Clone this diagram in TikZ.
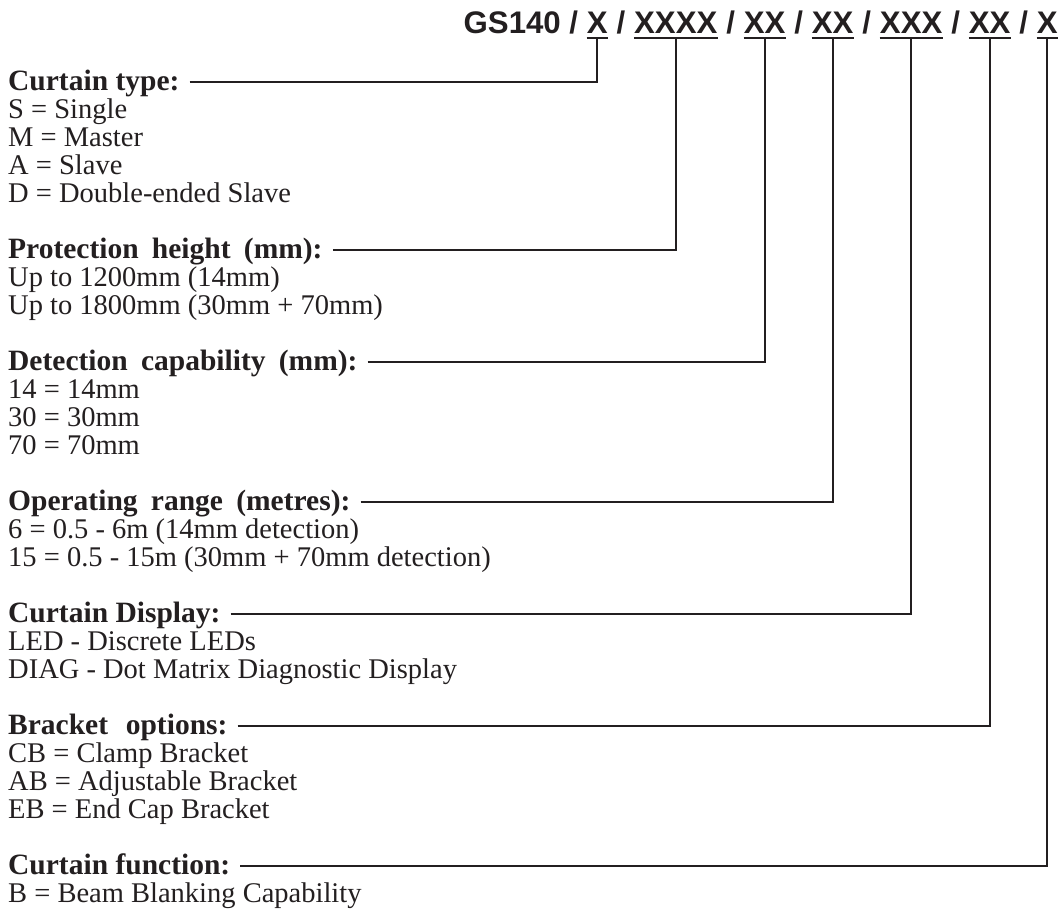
\documentclass[tikz,border=0pt]{standalone}
\usepackage{fontspec}
\setmainfont{Liberation Serif}
\newfontfamily\hdrfont{Liberation Sans}
\definecolor{ink}{HTML}{231F20}
\begin{document}
\begin{tikzpicture}[x=1pt,y=-1pt,
  body/.style={anchor=base west, inner sep=0pt, text=ink, font=\fontsize{28.5}{28}\selectfont},
  ttl/.style={anchor=base west, inner sep=0pt, text=ink, font=\fontsize{29.5}{28}\selectfont\bfseries},
  hdr/.style={anchor=base west, inner sep=0pt, text=ink, font=\hdrfont\bfseries\fontsize{31.2}{34}\selectfont},
  conn/.style={draw=ink, line width=2.2pt},
  uline/.style={draw=ink, line width=2pt}]
\useasboundingbox (0,0) rectangle (1063,914);
\newcommand\wsp{\hspace{0.45em}}
\newcommand\hsep{\kern0.272em/\kern0.272em}
% header
\node[hdr] (h0) at (463.5,33) {GS140\hsep};
\node[hdr] (f1) at (h0.base east) {X};
\node[hdr] (s1) at (f1.base east) {\hsep};
\node[hdr] (f2) at (s1.base east) {XXXX};
\node[hdr] (s2) at (f2.base east) {\hsep};
\node[hdr] (f3) at (s2.base east) {XX};
\node[hdr] (s3) at (f3.base east) {\hsep};
\node[hdr] (f4) at (s3.base east) {XX};
\node[hdr] (s4) at (f4.base east) {\hsep};
\node[hdr] (f5) at (s4.base east) {XXX};
\node[hdr] (s5) at (f5.base east) {\hsep};
\node[hdr] (f6) at (s5.base east) {XX};
\node[hdr] (s6) at (f6.base east) {\hsep};
\node[hdr] (f7) at (s6.base east) {X};
\foreach \f in {f1,f2,f3,f4,f5,f6,f7}{
  \draw[uline] ([yshift=-4.5pt]\f.base west) -- ([yshift=-4.5pt]\f.base east);
  \coordinate (u\f) at ([yshift=-4.5pt]\f.base);
}
% blocks
\node[ttl]  (t1) at (8,{90.5+28*0}) {Curtain type:};
\node[body] (b1a) at (8,{90.5+28*1}) {S = Single};
\node[body] (b1b) at (8,{90.5+28*2}) {M = Master};
\node[body] (b1c) at (8,{90.5+28*3}) {A = Slave};
\node[body] (b1d) at (8,{90.5+28*4}) {D = Double-ended Slave};

\node[ttl]  (t2) at (8,{90.5+28*6}) {Protection\wsp height\wsp (mm):};
\node[body] (b2a) at (8,{90.5+28*7}) {Up to 1200mm (14mm)};
\node[body] (b2b) at (8,{90.5+28*8}) {Up to 1800mm (30mm + 70mm)};

\node[ttl]  (t3) at (8,{90.5+28*10}) {Detection\wsp capability\wsp (mm):};
\node[body] (b3a) at (8,{90.5+28*11}) {14 = 14mm};
\node[body] (b3b) at (8,{90.5+28*12}) {30 = 30mm};
\node[body] (b3c) at (8,{90.5+28*13}) {70 = 70mm};

\node[ttl]  (t4) at (8,{90.5+28*15}) {Operating\wsp range\wsp (metres):};
\node[body] (b4a) at (8,{90.5+28*16}) {6 = 0.5 - 6m (14mm detection)};
\node[body] (b4b) at (8,{90.5+28*17}) {15 = 0.5 - 15m (30mm + 70mm detection)};

\node[ttl]  (t5) at (8,{90.5+28*19}) {Curtain Display:};
\node[body] (b5a) at (8,{90.5+28*20}) {LED - Discrete LEDs};
\node[body] (b5b) at (8,{90.5+28*21}) {DIAG - Dot Matrix Diagnostic Display};

\node[ttl]  (t6) at (8,{90.5+28*23}) {Bracket\hspace{0.6em}options:};
\node[body] (b6a) at (8,{90.5+28*24}) {CB = Clamp Bracket};
\node[body] (b6b) at (8,{90.5+28*25}) {AB = Adjustable Bracket};
\node[body] (b6c) at (8,{90.5+28*26}) {EB = End Cap Bracket};

\node[ttl]  (t7) at (8,{90.5+28*28}) {Curtain function:};
\node[body] (b7a) at (8,{90.5+28*29}) {B = Beam Blanking Capability};

% connectors
\foreach \t/\f in {t1/f1,t2/f2,t3/f3,t4/f4,t5/f5,t6/f6,t7/f7}{
  \draw[conn] ([xshift=10pt,yshift=8.5pt]\t.base east) -| (u\f);
}
\end{tikzpicture}
\end{document}
